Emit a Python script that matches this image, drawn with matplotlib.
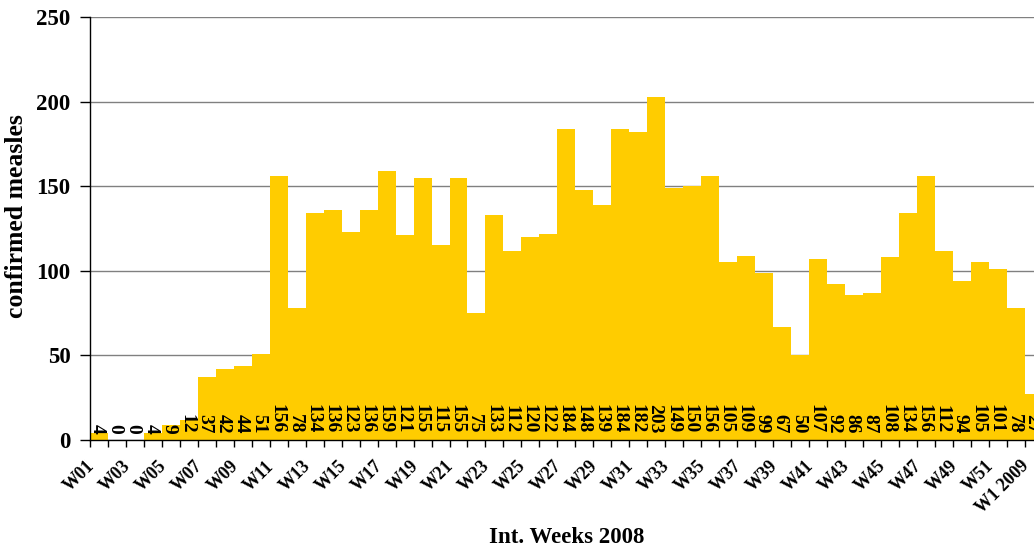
import matplotlib.pyplot as plt
import matplotlib.transforms as mtransforms
import numpy as np

weeks = [f"W{i:02d}" for i in range(1, 53)] + ["W1 2009"]
cases = [4, 0, 0, 4, 9, 12, 37, 42, 44, 51, 156, 78, 134, 136, 123, 136, 159,
         121, 155, 115, 155, 75, 133, 112, 120, 122, 184, 148, 139, 184, 182,
         203, 149, 150, 156, 105, 109, 99, 67, 50, 107, 92, 86, 87, 108, 134,
         156, 112, 94, 105, 101, 78, 27]

plt.rcParams["font.family"] = ["Liberation Serif", "DejaVu Serif"]
plt.rcParams["font.weight"] = "bold"

fig = plt.figure(figsize=(10.34, 5.48), dpi=100)
# the last bar runs past the right edge of the picture, as in the original
ax = fig.add_axes([0.087, 0.197, 0.9215, 0.772])

x = np.arange(len(cases))
ax.bar(x, cases, width=1.0, color="#FFCC00", zorder=2)

# value labels, written downwards along the bottom of each bar
for xi, v in zip(x, cases):
    ax.text(xi - 0.1, 4, str(v), rotation=270, ha="center", va="bottom",
            fontsize=14, fontweight="bold", zorder=3)

ax.set_xlim(-0.5, len(cases) - 0.5)
ax.set_ylim(0, 250)
ax.set_yticks(np.arange(0, 251, 50))
ax.yaxis.grid(True, color="#808080", linewidth=1, zorder=0)
ax.set_axisbelow(True)

ax.set_xticks(x[::2])
ax.set_xticks(np.arange(-0.5, len(cases)), minor=True)
ax.tick_params(axis="x", which="major", length=0, pad=17)
ax.tick_params(axis="x", which="minor", length=5, width=1, direction="out")
ax.tick_params(axis="y", length=7, width=1, pad=7, labelsize=16.5)
ax.set_xticklabels(weeks[::2], rotation=45, ha="right", va="center",
                   rotation_mode="anchor", fontsize=13, fontweight="bold")
# nudge the slanted week labels a little to the left
shift = mtransforms.ScaledTranslation(-7 / 100, 0, fig.dpi_scale_trans)
for lab in ax.get_xticklabels():
    lab.set_transform(lab.get_transform() + shift)
for lab in ax.get_yticklabels():
    lab.set_fontweight("bold")

for s in ["top", "right"]:
    ax.spines[s].set_visible(False)
ax.spines["left"].set_linewidth(1)
ax.spines["bottom"].set_linewidth(1)

ax.set_ylabel("confirmed measles", fontsize=18.5, fontweight="bold")
ax.yaxis.set_label_coords(-0.065, 0.53)
ax.set_xlabel("Int. Weeks 2008", fontsize=16.5, fontweight="bold")
ax.xaxis.set_label_coords(0.5, -0.205)

fig.savefig("out.png", dpi=100)
